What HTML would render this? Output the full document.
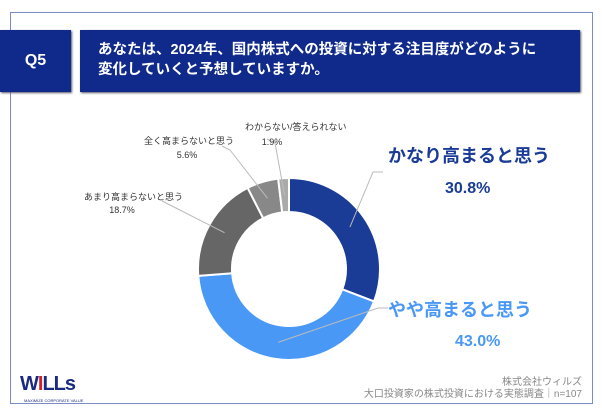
<!DOCTYPE html>
<html><head><meta charset="utf-8">
<style>
body{margin:0;width:602px;height:416px;background:#fff;overflow:hidden;font-family:"Liberation Sans","Noto Sans CJK JP",sans-serif;position:relative}
.frame{position:absolute;left:10px;top:12px;width:583px;height:392px;border:1px solid #7b8cc4;box-sizing:border-box}
.q{position:absolute;left:0;top:30px;width:71px;height:62px;background:#0f2a8a;color:#fff;font-weight:bold;font-size:16px;display:flex;align-items:center;justify-content:center;box-shadow:1px 1px 2px #556}
.t{position:absolute;left:80px;top:30px;width:500px;height:62px;background:#0f2a8a;color:#fff;font-weight:bold;font-size:14.5px;line-height:20px;box-sizing:border-box;padding:10px 0 0 18px;box-shadow:1px 1px 2px #556}
.src{position:absolute;right:20px;top:377px;text-align:right;color:#888;font-size:10px;line-height:12px}
.logo{position:absolute;left:20px;top:373px;font-weight:bold;font-size:20px;color:#1a2a80;letter-spacing:-1px}
.logo span{color:#d0202a}
.tag{position:absolute;left:24px;top:398px;font-size:4px;color:#1a2a80}
</style></head><body>
<div class="frame"></div>
<div class="q">Q5</div>
<div class="t">あなたは、2024年、国内株式への投資に対する注目度がどのように<br>変化していくと予想していますか。</div>
<svg id="c" width="602" height="416" style="position:absolute;left:0;top:0"></svg>
<div class="logo">W<span>I</span>LLs</div>
<div class="tag">MAXIMIZE CORPORATE VALUE</div>
<div class="src">株式会社ウィルズ<br>大口投資家の株式投資における実態調査｜n=107</div>
<script>
const categories=["かなり高まると思う","やや高まると思う","あまり高まらないと思う","全く高まらないと思う","わからない/答えられない"];
const values=[30.8,43.0,18.7,5.6,1.9];
const colors=["#1a3c96","#4a98f5","#666666","#888888","#aaaaaa"];
const svg=document.getElementById('c');const NS="http://www.w3.org/2000/svg";
const cx=289,cy=269,R=91,r=57;
const total=values.reduce((a,b)=>a+b,0);
function pt(a,rad){return [cx+rad*Math.sin(a),cy-rad*Math.cos(a)];}
let acc=0;const mids=[];
values.forEach((v,i)=>{
 const a0=acc/total*2*Math.PI,a1=(acc+v)/total*2*Math.PI;acc+=v;mids.push((a0+a1)/2);
 const [x0,y0]=pt(a0,R),[x1,y1]=pt(a1,R),[x2,y2]=pt(a1,r),[x3,y3]=pt(a0,r);
 const lg=(a1-a0)>Math.PI?1:0;
 const p=document.createElementNS(NS,'path');
 p.setAttribute('d',`M${x0},${y0}A${R},${R} 0 ${lg} 1 ${x1},${y1}L${x2},${y2}A${r},${r} 0 ${lg} 0 ${x3},${y3}Z`);
 p.setAttribute('fill',colors[i]);p.setAttribute('stroke','#fff');p.setAttribute('stroke-width','2');
 
 
 svg.appendChild(p);
});
const lab=[[383,172,388,162,18,"#1a3c96",true,445,193],[388,308,388,316,18,"#4a98f5",true,455,346],[170,205,84,200,9,"#333",false,122,213],[230,150,144,144,9,"#333",false,187,158],[275,143,245,130,9,"#333",false,272,145]];
values.forEach((v,i)=>{
 const L=lab[i];const [mx,my]=pt(mids[i],(R+r)/2);
 const ln=document.createElementNS(NS,'polyline');
 const ex=L[0],ey=L[1];
 ln.setAttribute('points',i<2?`${mx},${my} ${ex-10},${ey} ${ex},${ey}`:`${mx},${my} ${ex},${ey} ${ex-8},${ey-4}`);
 ln.setAttribute('fill','none');ln.setAttribute('stroke','#bbb');ln.setAttribute('stroke-width','1');
 
 
 svg.appendChild(ln);
 const t=document.createElementNS(NS,'text');
 t.setAttribute('x',L[2]);t.setAttribute('y',L[3]);t.setAttribute('font-size',L[4]);t.setAttribute('fill',L[5]);
 if(L[6])t.setAttribute('font-weight','bold');
 t.textContent=categories[i];
 
 
 svg.appendChild(t);
 const t2=document.createElementNS(NS,'text');
 t2.setAttribute('x',L[7]);t2.setAttribute('y',L[8]);t2.setAttribute('font-size',L[6]?16:9);t2.setAttribute('fill',L[5]);
 if(L[6])t2.setAttribute('font-weight','bold');
 t2.setAttribute('text-anchor',i>=2?'middle':'start');
 t2.textContent=v.toFixed(1)+'%';
 
 
 svg.appendChild(t2);
});
</script>
</body></html>
